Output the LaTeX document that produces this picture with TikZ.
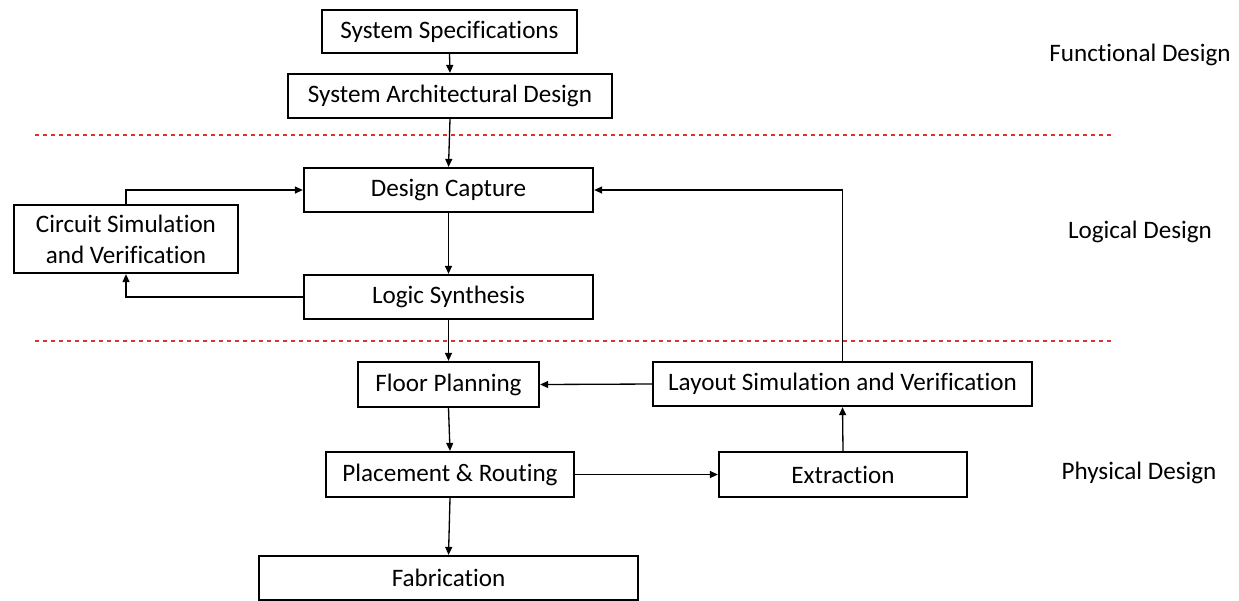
\documentclass[tikz,border=0pt]{standalone}
\usepackage{fontspec}
\setmainfont{Carlito}[Ligatures=NoCommon]
\usetikzlibrary{arrows.meta}
\definecolor{dashred}{RGB}{222,50,48}
\tikzset{
  box/.style={draw=black, line width=1.3pt, inner sep=0pt, align=center, font=\fontsize{14.3}{17.5}\selectfont},
  conn/.style={draw=black, line width=0.75pt, -{Triangle[length=1.6mm,width=1.4mm]}},
  sep/.style={draw=dashred, line width=0.6pt, dash pattern=on 0.09cm off 0.07cm},
  phase/.style={font=\fontsize{14.3}{17.5}\selectfont}
}
\begin{document}
\begin{tikzpicture}[x=0.02cm,y=-0.02cm]
\useasboundingbox (0,0) rectangle (1239,600);
\node[box, minimum width=255*0.02cm, minimum height=43*0.02cm] (spec) at (449.5,31.5) {System Specifications};
\node[box, minimum width=324*0.02cm, minimum height=44*0.02cm] (arch) at (450,96) {System Architectural Design};
\node[box, minimum width=289*0.02cm, minimum height=44*0.02cm] (cap) at (448.5,190) {Design Capture};
\node[box, minimum width=224*0.02cm, minimum height=68*0.02cm] (circ) at (126,239) {Circuit Simulation\\and Verification};
\node[box, minimum width=289*0.02cm, minimum height=44*0.02cm] (syn) at (448.5,297) {Logic Synthesis};
\node[box, minimum width=181*0.02cm, minimum height=45*0.02cm] (fp) at (448.5,384.5) {Floor Planning};
\node[box, minimum width=379*0.02cm, minimum height=44*0.02cm] (lsv) at (842.5,384) {Layout Simulation and Verification};
\node[box, minimum width=248*0.02cm, minimum height=45*0.02cm] (pr) at (450,474.5) {Placement \& Routing};
\node[box, minimum width=248*0.02cm, minimum height=45*0.02cm] (ext) at (843,474.5) {Extraction};
\node[box, minimum width=379*0.02cm, minimum height=44*0.02cm] (fab) at (448.5,578) {Fabrication};

\node[phase] (fd) at (1140,55) {Functional Design};
\node[phase] (ld) at (1140,232) {Logical Design};
\node[phase] (pd) at (1139,473) {Physical Design};

\coordinate (d1a) at (35,135);
\coordinate (d1b) at (1111,135);
\coordinate (d2a) at (35,341);
\coordinate (d2b) at (1111,341);
\draw[sep] (d1a) -- (d1b);
\draw[sep] (d2a) -- (d2b);

\draw[conn] (spec.south) -- (arch.north);
\draw[conn] (arch.south) -- (cap.north);
\draw[conn] (cap.south) -- (syn.north);
\draw[conn] (syn.west) -| (circ.south);
\draw[conn] (circ.north) |- (cap.west);
\draw[conn] (syn.south) -- (fp.north);
\draw[conn] (lsv.west) -- (fp.east);
\draw[conn] (lsv.north) |- (cap.east);
\draw[conn] (fp.south) -- (pr.north);
\draw[conn] (pr.east) -- (ext.west);
\draw[conn] (ext.north) -- (lsv.south);
\draw[conn] (pr.south) -- (fab.north);
\end{tikzpicture}
\end{document}
